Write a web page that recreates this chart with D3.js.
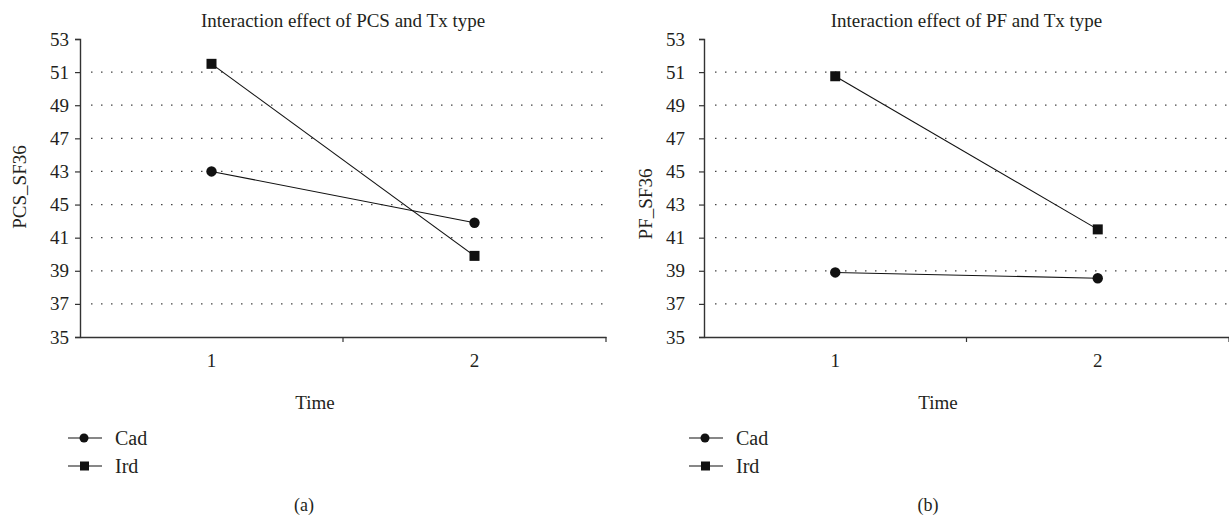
<!DOCTYPE html>
<html>
<head>
<meta charset="utf-8">
<script src="https://cdn.jsdelivr.net/npm/d3@7"></script>
<style>
  body { margin: 0; background: #fff; }
  text { font-family: "Liberation Serif", "DejaVu Serif", serif; fill: #231f20; }
</style>
</head>
<body>
<div id="chart"></div>
<script>
// values
var categories = ["1", "2"];
var seriesNames = ["Cad", "Ird"];
var yTicks = [35, 37, 39, 41, 43, 45, 47, 49, 51, 53];
// panel (a) has 43 and 45 swapped in the original figure
var yTickLabelsA = ["35", "37", "39", "41", "45", "43", "47", "49", "51", "53"];
var yTickLabelsB = ["35", "37", "39", "41", "43", "45", "47", "49", "51", "53"];
var pcsCad = [45.0, 41.9];
var pcsIrd = [51.5, 39.9];
var pfCad = [38.9, 38.55];
var pfIrd = [50.75, 41.5];

var W = 1229, H = 516;
var svg = d3.select("#chart").append("svg").attr("width", W).attr("height", H);

function panel(p) {
    var g = svg.append("g");
    var y = d3.scaleLinear().domain([35, 53]).range([p.bottom, p.top]);
    var x = d3.scaleBand().domain(categories).range([p.x0, p.x1]);
    var cx = function (i) { return x(categories[i]) + x.bandwidth() / 2; };

    // dotted gridlines
    g.selectAll("line.grid").data(yTicks.filter(function (d) { return d > 35 && d < 53; }))
        .enter().append("line").attr("class", "grid")
        .attr("x1", p.x0 + 11).attr("x2", p.x1)
        .attr("y1", function (d) { return y(d); }).attr("y2", function (d) { return y(d); })
        .attr("stroke", "#444").attr("stroke-width", 1.3).attr("stroke-dasharray", "1.5,8.5");

    // y axis
    var ya = g.append("g").attr("transform", "translate(" + p.x0 + ",0)")
        .call(d3.axisLeft(y).tickValues(yTicks).tickSize(5).tickPadding(p.pad)
            .tickFormat(function (d, i) { return p.labels[i]; }));
    ya.select(".domain").attr("stroke", "#333").attr("stroke-width", 1.4);
    ya.selectAll(".tick line").attr("stroke", "#333").attr("stroke-width", 1.2);
    ya.selectAll("text").style("font-size", "19px").style("font-family", "Liberation Serif").attr("fill", "#231f20");

    // x axis
    var xa = g.append("g").attr("transform", "translate(0," + p.bottom + ")")
        .call(d3.axisBottom(x).tickSize(0).tickPadding(17));
    xa.select(".domain").attr("stroke", "#333").attr("stroke-width", 1.4);
    xa.selectAll("text").style("font-size", "19px").style("font-family", "Liberation Serif").attr("fill", "#231f20");
    g.selectAll("line.xt").data(categories).enter().append("line").attr("class", "xt")
        .attr("x1", function (d) { return x(d) + x.bandwidth(); })
        .attr("x2", function (d) { return x(d) + x.bandwidth(); })
        .attr("y1", p.bottom).attr("y2", p.bottom + 5)
        .attr("stroke", "#333").attr("stroke-width", 1.2);

    // lines + markers
    var line = d3.line().x(function (d, i) { return cx(i); }).y(function (d) { return y(d); });
    [p.cad, p.ird].forEach(function (vals) {
        g.append("path").datum(vals).attr("d", line)
            .attr("fill", "none").attr("stroke", "#111").attr("stroke-width", 1.1);
    });
    g.selectAll("circle.cad").data(p.cad).enter().append("circle")
        .attr("cx", function (d, i) { return cx(i); }).attr("cy", function (d) { return y(d); })
        .attr("r", 5.2).attr("fill", "#111");
    g.selectAll("rect.ird").data(p.ird).enter().append("rect")
        .attr("x", function (d, i) { return cx(i) - 5; }).attr("y", function (d) { return y(d) - 5; })
        .attr("width", 10).attr("height", 10).attr("fill", "#111");

    // titles
    g.append("text").attr("x", (p.x0 + p.x1) / 2).attr("y", 27).attr("text-anchor", "middle")
        .style("font-size", "19px").text(p.title);
    g.append("text").attr("transform", "translate(" + p.ylx + "," + p.yly + ") rotate(-90)")
        .attr("text-anchor", "middle").attr("dy", "0.35em").style("font-size", "19px").text(p.ylabel);
    g.append("text").attr("x", p.timeX).attr("y", 409).attr("text-anchor", "middle")
        .style("font-size", "19px").text("Time");

    // legend
    seriesNames.forEach(function (name, i) {
        var ly = 438 + i * 28;
        g.append("line").attr("x1", p.lx).attr("x2", p.lx + 34).attr("y1", ly).attr("y2", ly)
            .attr("stroke", "#111").attr("stroke-width", 1.2);
        if (i === 0) g.append("circle").attr("cx", p.lx + 16).attr("cy", ly).attr("r", 4.5).attr("fill", "#111");
        else g.append("rect").attr("x", p.lx + 12).attr("y", ly - 4.5).attr("width", 9).attr("height", 9).attr("fill", "#111");
        g.append("text").attr("x", p.lx + 47).attr("y", ly).attr("dy", "0.35em")
            .style("font-size", "20px").text(name);
    });

    g.append("text").attr("x", p.capX).attr("y", 511).attr("text-anchor", "middle")
        .style("font-size", "18px").text(p.caption);
}

panel({
    x0: 80, x1: 606, top: 39, bottom: 337, pad: 6, labels: yTickLabelsA,
    cad: pcsCad, ird: pcsIrd, title: "Interaction effect of PCS and Tx type",
    ylabel: "PCS_SF36", ylx: 19, yly: 187, timeX: 315, lx: 68, capX: 304, caption: "(a)"
});
panel({
    x0: 704, x1: 1229, top: 39, bottom: 337, pad: 14, labels: yTickLabelsB,
    cad: pfCad, ird: pfIrd, title: "Interaction effect of PF and Tx type",
    ylabel: "PF_SF36", ylx: 645, yly: 204, timeX: 938, lx: 689, capX: 928, caption: "(b)"
});
</script>
</body>
</html>
